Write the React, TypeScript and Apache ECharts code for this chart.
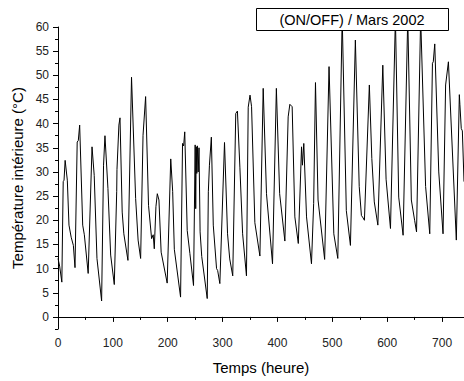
import React, { useEffect, useRef } from "react";
import * as echarts from "echarts";

const hours = [
  0, 3, 7, 9.5, 11, 13, 17, 20, 24, 28, 31, 35, 37, 39.5, 45, 48, 55, 62, 66, 71,
  79.5, 83, 85.6, 91, 96, 102.6, 107, 107.5, 111, 113, 117, 120, 127.5, 134, 141.5, 146, 150.6, 155, 159.7, 165,
  170.6, 173.5, 175.5, 178.5, 181, 184, 188, 199, 205.5, 209, 212, 223.4, 227, 229, 231, 235.5, 240.4, 247, 250, 251,
  252, 253, 254, 255.5, 257, 259, 262, 272, 274, 276, 279.5, 283, 289, 291, 295, 303.5, 309, 313, 318.5, 324,
  327, 331.5, 336.5, 343.5, 346.7, 350, 352.8, 358.8, 368, 374, 380, 391, 398, 404, 413.5, 419.5, 422.6, 426.8, 431.7, 438,
  443.9, 445.5, 448, 453, 462, 466, 469.3, 474, 486, 494, 502.7, 510, 518, 525.5, 533, 542, 549, 553, 556, 558.5,
  567.5, 572, 576.5, 583, 592, 598, 606, 615, 621, 629, 637.5, 644, 650, 653.5, 661, 670, 677.6, 682.5, 684, 686.7,
  694, 701.8, 706.5, 711.6, 726, 731.5, 732.5, 735, 737, 740,
];

const temps = [
  12.1, 10.5, 7.2, 28.0, 28.3, 32.4, 28.3, 19.0, 16.5, 14.8, 10.2, 36.2, 36.5, 39.7, 19.0, 17.0, 9.0, 35.2, 29.3, 12.1,
  3.3, 31.4, 37.5, 26.6, 12.8, 6.7, 26.0, 30.5, 39.7, 41.2, 21.7, 17.2, 11.7, 49.6, 24.5, 15.9, 12.1, 37.6, 45.6, 23.1,
  16.2, 17.0, 14.1, 22.8, 25.5, 24.2, 13.4, 7.0, 32.7, 26.0, 14.0, 4.1, 35.9, 35.4, 38.3, 17.9, 13.1, 6.5, 35.6, 22.4,
  35.2, 29.7, 35.4, 30.0, 35.0, 17.6, 12.5, 3.8, 25.9, 31.4, 37.2, 19.0, 10.0, 9.6, 6.9, 36.1, 17.2, 12.0, 8.5, 42.1,
  42.6, 31.0, 17.2, 8.5, 43.4, 45.9, 43.5, 19.5, 12.6, 47.3, 25.5, 11.0, 47.3, 25.5, 15.7, 41.4, 44.0, 43.5, 20.7, 15.2,
  35.2, 31.4, 35.9, 20.7, 11.0, 23.5, 48.5, 24.2, 11.9, 51.8, 17.2, 12.1, 62.0, 22.0, 14.8, 57.3, 27.0, 21.0, 20.5, 20.0,
  48.0, 32.8, 23.8, 19.0, 52.1, 28.5, 18.3, 62.0, 24.8, 16.9, 62.0, 24.2, 20.0, 17.6, 62.0, 27.0, 17.2, 52.5, 52.8, 56.5,
  30.0, 17.2, 48.0, 52.8, 15.9, 46.0, 44.0, 39.0, 38.5, 28.0,
];

const xTicks = [0, 100, 200, 300, 400, 500, 600, 700];
const yLabels = [0, 5, 10, 15, 20, 25, 30, 35, 40, 45, 50, 55, 60];
const legendText = "(ON/OFF) / Mars 2002";
const xName = "Temps (heure)";
const yName = "Température intérieure (°C)";

const FONT = "'Liberation Sans', Arial, sans-serif";

export default function App() {
  const ref = useRef<HTMLDivElement>(null);
  useEffect(() => {
    document.body.style.margin = "0";
    const chart = echarts.init(ref.current!, null, { renderer: "svg" });
    const data = hours.map((h, i) => [h, temps[i]]);
    chart.setOption({
      animation: false,
      backgroundColor: "#fff",
      textStyle: { fontFamily: FONT },
      grid: { left: 58, top: 27, right: 0, bottom: 52 },
      xAxis: {
        type: "value",
        min: 0,
        max: 740,
        interval: 100,
        name: xName,
        nameLocation: "middle",
        nameGap: 31,
        nameTextStyle: { fontSize: 15, color: "#000", fontFamily: FONT },
        axisLine: { show: true, lineStyle: { color: "#000", width: 1 } },
        axisTick: { show: true, inside: false, length: 5, lineStyle: { color: "#000" } },
        minorTick: { show: true, splitNumber: 2, length: 3, lineStyle: { color: "#000" } },
        axisLabel: {
          fontSize: 12,
          color: "#222",
          margin: 8,
          fontFamily: FONT,
          customValues: xTicks,
        },
        splitLine: { show: false },
        minorSplitLine: { show: false },
      },
      yAxis: [
        {
          type: "value",
          min: -2.5,
          max: 60,
          name: yName,
          nameLocation: "middle",
          nameGap: 32,
          nameTextStyle: { fontSize: 15, color: "#000", fontFamily: FONT },
          axisLine: { show: true, lineStyle: { color: "#000", width: 1 } },
          axisTick: { show: true, inside: false, length: 5, lineStyle: { color: "#000" }, customValues: yLabels },
          axisLabel: { fontSize: 12, color: "#222", margin: 9, fontFamily: FONT, customValues: yLabels },
          splitLine: { show: false },
        },
        {
          type: "value",
          min: -2.5,
          max: 60,
          interval: 2.5,
          position: "left",
          axisLine: { show: false },
          axisTick: { show: true, inside: false, length: 3, lineStyle: { color: "#000" } },
          axisLabel: { show: false },
          splitLine: { show: false },
        },
      ],
      series: [
        {
          type: "line",
          data,
          yAxisIndex: 0,
          showSymbol: false,
          symbol: "none",
          clip: true,
          lineStyle: { color: "#000", width: 1 },
        },
      ],
      graphic: [
        {
          type: "rect",
          z: 100,
          shape: { x: 256.5, y: 8.5, width: 192, height: 22 },
          style: { fill: "#fff", stroke: "#000", lineWidth: 1 },
        },
        {
          type: "text",
          z: 101,
          x: 352,
          y: 19.5,
          style: {
            text: legendText,
            fontSize: 14.5,
            fontFamily: FONT,
            fill: "#000",
            textAlign: "center",
            textVerticalAlign: "middle",
          },
        },
      ],
    });
    return () => chart.dispose();
  }, []);
  return <div ref={ref} style={{ width: 464, height: 381 }} />;
}
